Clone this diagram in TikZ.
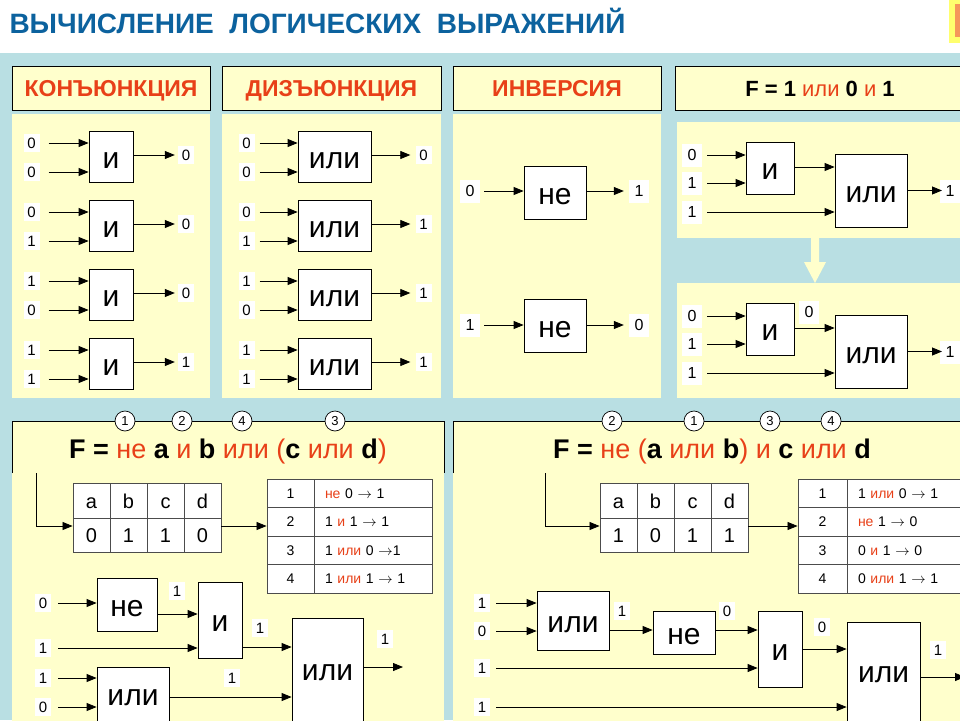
\documentclass[tikz,border=0pt]{standalone}
\usepackage{fontspec}
\setmainfont{Liberation Sans}
\usetikzlibrary{arrows.meta}
\definecolor{bgblue}{RGB}{185,223,227}
\definecolor{paneyel}{RGB}{255,255,204}
\definecolor{ttlblue}{RGB}{12,98,158}
\definecolor{opred}{RGB}{232,64,24}
\definecolor{tabyel}{RGB}{255,255,110}
\definecolor{tabora}{RGB}{245,150,90}
\newcommand{\fsz}[1]{\fontsize{#1}{#1}\selectfont}
\newcommand{\opw}[1]{\textcolor{opred}{#1}}

\begin{document}
\begin{tikzpicture}[x=1pt, y=-1pt,
    hdr/.style={draw, fill=paneyel, line width=0.8pt, minimum height=44pt,
      inner sep=0pt, text height=16.5pt, text depth=0pt, font=\fsz{23}\bfseries},
    gate/.style={draw, fill=white, line width=0.8pt, inner sep=0pt,
      text height=23pt, text depth=0pt, font=\fsz{30}},
    uptxt/.style={text height=15pt, text depth=12pt},
    val/.style={fill=white, inner sep=0pt, minimum width=16pt,
      minimum height=18pt, font=\fsz{15}},
    valb/.style={val, minimum width=20pt, minimum height=23pt, font=\fsz{16}},
    arr/.style={line width=0.8pt, -{Triangle[length=10pt,width=8pt]}},
    num/.style={circle, draw, fill=white, line width=0.7pt, minimum size=20pt,
      inner sep=0pt, font=\fsz{13}},
    cell/.style={draw=black!70, fill=white, line width=0.9pt, inner sep=0pt,
      minimum width=37pt, minimum height=34.5pt, text height=14.5pt,
      text depth=0pt, font=\fsz{20}},
    stepn/.style={draw=black!70, fill=white, line width=0.9pt, inner sep=0pt,
      minimum height=28.5pt, text height=10pt, text depth=0pt, font=\fsz{14}},
    stept/.style={stepn, minimum width=118pt, text width=96pt, align=left}
  ]
  \useasboundingbox (0,0) rectangle (960,720);
  \clip (0,0) rectangle (960,720);

  % title and background
  \node[anchor=west, font=\fsz{28}\bfseries, text=ttlblue] (ttl) at (6,21)
    {ВЫЧИСЛЕНИЕ\ \ ЛОГИЧЕСКИХ\ \ ВЫРАЖЕНИЙ};
  \fill[tabyel] (949,0) rectangle (962,43);
  \fill[tabora] (955,4) rectangle (962,37);
  \fill[bgblue] (0,53) rectangle (960,720);

  % top row
  \node[hdr, minimum width=198pt, text=opred] (h1) at (111,88) {КОНЪЮНКЦИЯ};
  \node[hdr, minimum width=219pt, text=opred] (h2) at (331.5,88) {ДИЗЪЮНКЦИЯ};
  \node[hdr, minimum width=208pt, text=opred] (h3) at (557,88) {ИНВЕРСИЯ};
  \node[hdr, minimum width=290pt, font=\fsz{22}] (h4) at (820,88)
    {{\bfseries F = 1} \opw{\mdseries или} {\bfseries 0} \opw{\mdseries и} {\bfseries 1}};

  \fill[paneyel] (12,114) rectangle (210,398);
  \fill[paneyel] (222,114) rectangle (441,398);
  \fill[paneyel] (453,114) rectangle (661,398);
  \fill[paneyel] (677,122) rectangle (965,238);
  \fill[paneyel] (677,283) rectangle (965,398);
  \fill[paneyel] (811,237) -- (819,237) -- (819,262) -- (826,262) -- (815,283)
    -- (804,262) -- (811,262) -- cycle;

  % conjunction and disjunction
  \foreach \k/\p/\q/\r/\s in {0/0/0/0/0, 1/0/1/0/1, 2/1/0/0/1, 3/1/1/1/1} {
    \node[gate, minimum width=44pt, minimum height=51pt] (c\k) at (111,156.5+69*\k) {и};
    \node[val] (ca\k) at (31.5,143+69*\k) {\p};
    \node[val] (cb\k) at (31.5,172+69*\k) {\q};
    \node[val] (cf\k) at (186,155+69*\k) {\r};
    \draw[arr, shorten <=9pt] (ca\k.east) -- (ca\k -| c\k.west);
    \draw[arr, shorten <=9pt] (cb\k.east) -- (cb\k -| c\k.west);
    \draw[arr, shorten >=3pt] (cf\k -| c\k.east) -- (cf\k.west);

    \node[gate, minimum width=73pt, minimum height=51pt] (d\k) at (334.5,156.5+69*\k) {или};
    \node[val] (da\k) at (246.5,143+69*\k) {\p};
    \node[val] (db\k) at (246.5,172+69*\k) {\q};
    \node[val] (df\k) at (423.5,155+69*\k) {\s};
    \draw[arr, shorten <=5pt] (da\k.east) -- (da\k -| d\k.west);
    \draw[arr, shorten <=5pt] (db\k.east) -- (db\k -| d\k.west);
    \draw[arr, shorten >=5pt] (df\k -| d\k.east) -- (df\k.west);
  }

  % inversion
  \node[gate, minimum width=62pt, minimum height=53pt] (ni1) at (555,192.5) {не};
  \node[gate, minimum width=62pt, minimum height=53pt] (ni2) at (555,325.5) {не};
  \node[valb] (v1) at (470,191) {0};
  \node[valb] (v2) at (639,191) {1};
  \node[valb] (v3) at (470,325) {1};
  \node[valb] (v4) at (639,325) {0};
  \draw[arr, shorten <=4pt] (v1.east) -- (v1 -| ni1.west);
  \draw[arr, shorten >=5pt] (v2 -| ni1.east) -- (v2.west);
  \draw[arr, shorten <=4pt] (v3.east) -- (v3 -| ni2.west);
  \draw[arr, shorten >=5pt] (v4 -| ni2.east) -- (v4.west);

  % F = 1 или 0 и 1
  \node[gate, minimum width=48pt, minimum height=52pt] (ag1) at (770,168) {и};
  \node[gate, minimum width=72pt, minimum height=73pt] (oa1) at (871,190.5) {или};
  \node[valb] (u1) at (692,155) {0};
  \node[valb] (u2) at (692,183) {1};
  \node[valb] (u3) at (692,212) {1};
  \node[valb] (u4) at (950,191) {1};
  \coordinate (e3) at (942,190.5);
  \draw[arr, shorten <=5pt] (u1.east) -- (u1 -| ag1.west);
  \draw[arr, shorten <=5pt] (u2.east) -- (u2 -| ag1.west);
  \draw[arr, shorten <=5pt] (u3.east) -- (u3 -| oa1.west);
  \draw[arr] (ag1.east |- 0,167) -- (oa1.west |- 0,167);
  \draw[arr] (oa1.east) -- (e3);

  \node[gate, minimum width=48pt, minimum height=52pt] (ag2) at (770,329) {и};
  \node[gate, minimum width=72pt, minimum height=73pt] (oa2) at (871,351.5) {или};
  \node[valb] (u5) at (692,316) {0};
  \node[valb] (u6) at (692,344) {1};
  \node[valb] (u7) at (692,373) {1};
  \node[valb] (u8) at (809,312) {0};
  \node[valb] (u9) at (950,352) {1};
  \coordinate (e4) at (942,351.5);
  \draw[arr, shorten <=5pt] (u5.east) -- (u5 -| ag2.west);
  \draw[arr, shorten <=5pt] (u6.east) -- (u6 -| ag2.west);
  \draw[arr, shorten <=5pt] (u7.east) -- (u7 -| oa2.west);
  \draw[arr] (ag2.east |- 0,328) -- (oa2.west |- 0,328);
  \draw[arr] (oa2.east) -- (e4);

  % bottom left: F = не a и b или (c или d)
  \fill[paneyel] (12,421) rectangle (444,725);
  \draw[line width=0.8pt] (12,473) |- (444,421) -- (444,473);
  \node[num] (q1) at (125,421) {1};
  \node[num] (q2) at (182,421) {2};
  \node[num] (q3) at (242,421) {4};
  \node[num] (q4) at (335,421) {3};
  \node[font=\fsz{27}] (fa) at (228,452) {{\bfseries F =} \opw{не} {\bfseries a}
    \opw{и} {\bfseries b} \opw{или (}{\bfseries c} \opw{или} {\bfseries d}\opw{)}};

  \foreach \n/\v [count=\i from 0] in {a/0, b/1, c/1, d/0} {
    \node[cell] (lt\i) at (91.5+37*\i,501) {\n};
    \node[cell] (lv\i) at (91.5+37*\i,535.5) {\v};
  }
  \foreach \t [count=\i] in {{\opw{не} 0 $\to$ 1}, {1 \opw{и} 1 $\to$ 1},
      {1 \opw{или} 0 $\to$1}, {1 \opw{или} 1 $\to$ 1}} {
    \node[stepn, minimum width=47pt] (ln\i) at (290.5,464.75+28.5*\i) {\i};
    \node[stept] (ls\i) at (373,464.75+28.5*\i) {\t};
  }
  \coordinate (lk) at (36,473);
  \coordinate (lj) at (36,526);
  \draw[arr] (lk) -- (lj) -- (lj -| lv0.west);
  \draw[arr] (lj -| lv3.east) -- (lj -| ln1.west);

  \node[gate, minimum width=60pt, minimum height=53pt] (ng1) at (127,604.5) {не};
  \node[gate, minimum width=44pt, minimum height=76pt] (ig1) at (220,620) {и};
  \node[gate, uptxt, minimum width=71pt, minimum height=122pt] (og1) at (327.5,679) {или};
  \node[gate, uptxt, minimum width=72pt, minimum height=73pt] (og2) at (133,703.5) {или};
  \node[val] (x1) at (43,603) {0};
  \node[val] (x2) at (43,648) {1};
  \node[val] (x3) at (43,678) {1};
  \node[val] (x4) at (43,707) {0};
  \node[val] (w1) at (177,591) {1};
  \node[val] (w2) at (260,628) {1};
  \node[val] (w3) at (232,678) {1};
  \node[val] (w4) at (385,639) {1};
  \coordinate (e1) at (403,667);
  \draw[arr, shorten <=7pt] (x1.east) -- (x1 -| ng1.west);
  \draw[arr, shorten <=7pt] (x2.east) -- (x2 -| ig1.west);
  \draw[arr, shorten <=7pt] (x3.east) -- (x3 -| og2.west);
  \draw[arr, shorten <=7pt] (x4.east) -- (x4 -| og2.west);
  \draw[arr] (ng1.east |- 0,614) -- (ig1.west |- 0,614);
  \draw[arr] (ig1.east |- 0,647) -- (og1.west |- 0,647);
  \draw[arr] (og2.east |- 0,697) -- (og1.west |- 0,697);
  \draw[arr] (og1.east |- e1) -- (e1);

  % bottom right: F = не (a или b) и c или d
  \fill[paneyel] (453,421) rectangle (970,725);
  \draw[line width=0.8pt] (453,473) |- (970,421);
  \node[num] (r1) at (612,421) {2};
  \node[num] (r2) at (694,421) {1};
  \node[num] (r3) at (770,421) {3};
  \node[num] (r4) at (831,421) {4};
  \node[font=\fsz{27}] (fb) at (712,452) {{\bfseries F =} \opw{не (}{\bfseries a}
    \opw{или} {\bfseries b}\opw{) и} {\bfseries c} \opw{или} {\bfseries d}};

  \foreach \n/\v [count=\i from 0] in {a/1, b/0, c/1, d/1} {
    \node[cell] (rt\i) at (618.5+37*\i,501) {\n};
    \node[cell] (rv\i) at (618.5+37*\i,535.5) {\v};
  }
  \foreach \t [count=\i] in {{1 \opw{или} 0 $\to$ 1}, {\opw{не} 1 $\to$ 0},
      {0 \opw{и} 1 $\to$ 0}, {0 \opw{или} 1 $\to$ 1}} {
    \node[stepn, minimum width=49pt] (rn\i) at (822.5,464.75+28.5*\i) {\i};
    \node[stept] (rs\i) at (906,464.75+28.5*\i) {\t};
  }
  \coordinate (rk) at (545,473);
  \coordinate (rj) at (545,526);
  \draw[arr] (rk) -- (rj) -- (rj -| rv0.west);
  \draw[arr] (rj -| rv3.east) -- (rj -| rn1.west);

  \node[gate, minimum width=72pt, minimum height=59pt] (og3) at (573,620.5) {или};
  \node[gate, minimum width=62pt, minimum height=43pt] (ng2) at (684,632.5) {не};
  \node[gate, minimum width=44pt, minimum height=76pt] (ig2) at (780,649) {и};
  \node[gate, uptxt, minimum width=73pt, minimum height=118pt] (og4) at (883.5,681) {или};
  \node[val] (y1) at (482,603) {1};
  \node[val] (y2) at (482,631) {0};
  \node[val] (y3) at (482,668) {1};
  \node[val] (y4) at (482,707) {1};
  \node[val] (z1) at (622,611) {1};
  \node[val] (z2) at (727,611) {0};
  \node[val] (z3) at (822,627) {0};
  \node[val] (z4) at (938,650) {1};
  \coordinate (e2) at (965,677);
  \draw[arr, shorten <=6pt] (y1.east) -- (y1 -| og3.west);
  \draw[arr, shorten <=6pt] (y2.east) -- (y2 -| og3.west);
  \draw[arr, shorten <=6pt] (y3.east) -- (y3 -| ig2.west);
  \draw[arr, shorten <=6pt] (y4.east) -- (y4 -| og4.west);
  \draw[arr] (og3.east |- 0,630) -- (ng2.west |- 0,630);
  \draw[arr] (ng2.east |- 0,630) -- (ig2.west |- 0,630);
  \draw[arr] (ig2.east |- 0,649) -- (og4.west |- 0,649);
  \draw[arr] (og4.east |- e2) -- (e2);
\end{tikzpicture}
\end{document}
